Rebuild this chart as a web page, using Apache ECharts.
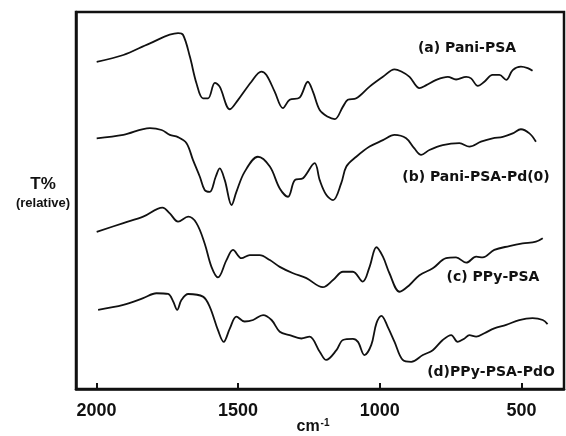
<!DOCTYPE html>
<html>
<head>
<meta charset="utf-8">
<script src="https://cdn.jsdelivr.net/npm/echarts@6/dist/echarts.min.js"></script>
<style>
  html, body { margin: 0; padding: 0; background: #fff; }
  #chart { width: 566px; height: 436px; }
</style>
</head>
<body>
<div id="chart"></div>
<script>
// wavenumbers (cm-1) and relative transmittance
var waveA = [1999, 1905, 1811, 1712, 1694, 1670, 1647, 1624, 1606, 1582, 1565, 1529, 1500, 1453, 1418, 1400, 1371, 1342, 1318, 1283, 1254, 1236, 1212, 1183, 1159, 1130, 1113, 1083, 1036, 989, 948, 924, 895, 860, 836, 801, 760, 731, 695, 678, 654, 631, 602, 578, 554, 531, 502, 478, 461];
var transA = [86.8, 88.6, 91.7, 94.4, 93.9, 88.1, 81.1, 77.1, 77.1, 81.2, 80.2, 74.2, 76.7, 81.5, 84.2, 83.3, 78.9, 74.5, 76.7, 77.3, 81.5, 78.9, 74.0, 72.2, 71.6, 74.9, 76.7, 77.1, 80.2, 82.8, 84.8, 84.2, 82.8, 79.8, 80.6, 82.0, 82.8, 82.1, 82.8, 82.4, 80.4, 81.5, 83.3, 83.3, 82.0, 84.6, 85.5, 85.1, 84.4];

var waveB = [1999, 1905, 1811, 1770, 1741, 1712, 1682, 1659, 1635, 1618, 1600, 1579, 1565, 1547, 1523, 1506, 1477, 1430, 1388, 1353, 1324, 1300, 1271, 1230, 1212, 1189, 1165, 1136, 1118, 1083, 1036, 989, 948, 907, 878, 854, 825, 778, 719, 684, 643, 602, 566, 531, 502, 472, 449];
var transB = [66.5, 67.4, 69.2, 68.7, 67.4, 66.8, 65.2, 60.7, 56.3, 52.8, 52.3, 56.3, 58.5, 55.4, 48.8, 52.3, 57.6, 61.6, 59.0, 53.2, 51.0, 55.4, 55.9, 59.9, 55.4, 51.5, 50.1, 54.6, 59.0, 61.6, 64.3, 66.0, 67.4, 66.5, 63.8, 62.1, 63.4, 64.7, 65.2, 64.3, 65.6, 66.5, 66.9, 67.8, 68.9, 67.8, 65.6];

var waveC = [1999, 1905, 1835, 1767, 1741, 1712, 1676, 1647, 1618, 1594, 1571, 1541, 1518, 1488, 1459, 1424, 1388, 1353, 1306, 1259, 1201, 1165, 1130, 1095, 1060, 1036, 1012, 989, 966, 930, 895, 860, 813, 766, 731, 695, 660, 637, 596, 543, 496, 449, 425];
var transC = [41.7, 44.0, 45.7, 48.1, 46.6, 44.4, 45.7, 44.0, 38.6, 32.4, 29.6, 34.2, 36.9, 34.7, 35.5, 35.5, 34.2, 32.4, 30.7, 29.4, 27.0, 28.9, 31.1, 31.1, 28.5, 32.4, 37.6, 35.1, 30.7, 25.8, 27.6, 30.2, 32.0, 34.7, 34.9, 33.5, 35.1, 34.9, 36.9, 37.9, 38.6, 39.1, 40.0];

var waveD = [1994, 1905, 1835, 1788, 1747, 1729, 1715, 1700, 1676, 1624, 1600, 1571, 1551, 1529, 1506, 1477, 1447, 1412, 1382, 1353, 1318, 1277, 1248, 1212, 1189, 1153, 1130, 1095, 1077, 1054, 1030, 1012, 994, 972, 948, 919, 889, 848, 813, 778, 748, 725, 701, 684, 660, 631, 596, 554, 508, 461, 425, 408];
var transD = [21.0, 22.3, 24.1, 25.4, 25.2, 23.2, 21.0, 23.6, 25.2, 24.5, 21.8, 15.6, 12.5, 16.1, 19.2, 17.9, 18.3, 19.6, 18.3, 15.2, 14.3, 13.4, 13.9, 9.9, 7.7, 10.3, 13.0, 13.3, 12.5, 9.0, 11.7, 17.4, 19.4, 16.5, 12.5, 7.7, 7.2, 9.0, 10.3, 13.0, 14.3, 12.5, 13.4, 14.3, 13.9, 14.8, 16.1, 17.0, 18.3, 18.8, 18.3, 17.2];

var tickValues = [500, 1000, 1500, 2000];

function pairs(xs, ys) {
    return xs.map(function (x, i) { return [x, ys[i]]; });
}

var fontFamily = '"Liberation Sans", Arial, sans-serif';
var wideFont = '"DejaVu Sans", "Liberation Sans", sans-serif';

function spectrum(name, xs, ys) {
    return {
        name: name,
        type: 'line',
        data: pairs(xs, ys),
        smooth: 0.35,
        showSymbol: false,
        lineStyle: { color: '#111', width: 1.8 }
    };
}

function label(text, x, y, size, family) {
    return {
        type: 'text',
        x: x,
        y: y,
        style: {
            text: text,
            fill: '#111',
            font: 'bold ' + size + 'px ' + (family || fontFamily),
            align: 'center',
            verticalAlign: 'middle'
        }
    };
}

var chart = echarts.init(document.getElementById('chart'));

var option = {
    animation: false,
    backgroundColor: '#fff',
    grid: {
        left: 76, right: 2, top: 12, bottom: 47,
        show: true,
        borderColor: '#111',
        borderWidth: 2.5
    },
    xAxis: {
        type: 'value',
        inverse: true,
        min: 350,
        max: 2072,
        splitLine: { show: false },
        axisLine: { lineStyle: { color: '#111', width: 2.5 } },
        axisTick: {
            customValues: tickValues,
            inside: true,
            length: 6,
            lineStyle: { color: '#111', width: 2 }
        },
        axisLabel: {
            customValues: tickValues,
            formatter: function (v) { return String(v); },
            color: '#111',
            fontFamily: fontFamily,
            fontWeight: 'bold',
            fontSize: 18,
            margin: 13
        }
    },
    yAxis: {
        type: 'value',
        min: 0,
        max: 100,
        splitLine: { show: false },
        axisLine: { show: true, lineStyle: { color: '#111', width: 2.5 } },
        axisTick: { show: false },
        axisLabel: { show: false }
    },
    series: [
        spectrum('(a) Pani-PSA', waveA, transA),
        spectrum('(b) Pani-PSA-Pd(0)', waveB, transB),
        spectrum('(c) PPy-PSA', waveC, transC),
        spectrum('(d)PPy-PSA-PdO', waveD, transD)
    ],
    graphic: [
        label('(a) Pani-PSA', 467, 48, 14, wideFont),
        label('(b) Pani-PSA-Pd(0)', 476, 177, 14, wideFont),
        label('(c) PPy-PSA', 493, 277, 14, wideFont),
        label('(d)PPy-PSA-PdO', 491, 372, 14, wideFont),
        label('T%', 43, 184, 17),
        label('(relative)', 43, 203, 13),
        {
            type: 'text',
            x: 313,
            y: 427,
            style: {
                text: 'cm{s|-1}',
                fill: '#111',
                font: 'bold 16px ' + fontFamily,
                align: 'center',
                verticalAlign: 'middle',
                rich: {
                    s: { fontSize: 10, fontWeight: 'bold', fontFamily: fontFamily, verticalAlign: 'top', padding: [0, 0, 8, 1] }
                }
            }
        }
    ]
};

chart.setOption(option);
</script>
</body>
</html>
